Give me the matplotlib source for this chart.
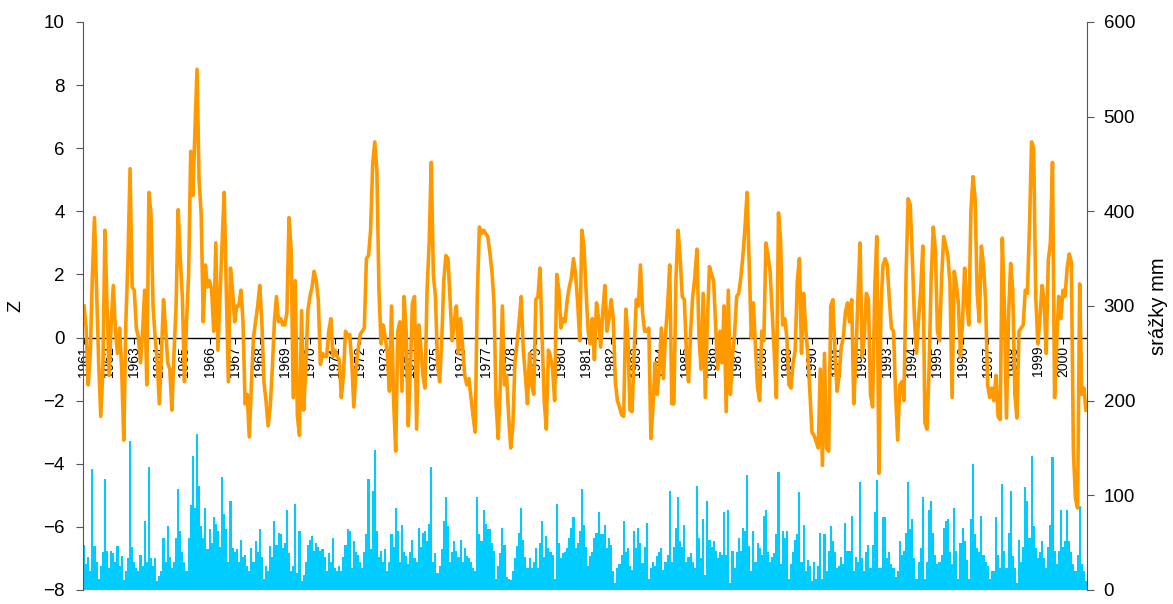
import numpy as np
import matplotlib.pyplot as plt

plt.rcParams['font.family'] = ['Liberation Sans', 'DejaVu Sans']

# rok 1961 - 2000, mesicni hodnoty
years = list(range(1961, 2001))

# Z index (orange line), one row per year
z_1961_1970 = [
    1.0, 0.3, -1.5, -0.5, 2.0, 3.8, 1.5, -0.8, -2.5, -1.0, 3.4, 1.0,
    -1.2, 0.5, 1.65, 0.2, -0.5, 0.3, -1.0, -3.25, 0.5, 2.5, 5.35, 1.6,
    1.5, 0.3, 0.0, -0.8, 0.2, 1.5, -1.5, 4.6, 3.9, 1.0, 0.0, -0.8,
    -2.1, -0.5, 1.2, 0.3, -0.8, -1.0, -2.3, -0.5, 1.0, 4.05, 2.5, 1.3,
    -1.4, 0.5, 2.0, 5.9, 4.5, 6.5, 8.5, 5.0, 3.9, 0.5, 2.3, 1.6,
    1.8, 1.5, 0.2, 3.0, -0.4, 1.3, 3.0, 4.6, 1.5, -1.4, 2.2, 1.5,
    0.5, 1.0, 1.0, 1.5, 0.5, -2.1, -1.8, -3.15, -1.5, 0.0, 0.5, 1.0,
    1.65, 0.5, -1.4, -2.0, -2.8, -2.2, -1.0, 0.5, 1.3, 0.5, 0.6, 0.4,
    0.4, 0.8, 3.8, 2.8, -1.9, 1.8, -2.5, -3.1, 0.85, -2.3, -1.0, 0.85,
    1.3, 1.6, 2.1, 1.8, 1.2, -0.85, -0.5, -0.6, -0.6, 0.2, 0.6, -0.6,
]
z_1971_1980 = [
    -0.4, -0.6, -0.7, -1.9, -1.2, 0.2, 0.0, 0.1, -0.8, -2.2, -1.0, -0.4,
    0.1, 0.2, 0.3, 2.5, 2.6, 3.4, 5.5, 6.2, 5.3, 1.5, -0.2, 0.4,
    0.0, -0.5, -1.7, 1.0, -2.0, -3.6, 0.2, 0.5, -1.7, 1.3, 0.2, -2.8,
    -1.0, 1.1, 1.3, -2.9, 0.4, -0.3, -1.2, -1.6, 1.5, 3.0, 5.55, 2.0,
    1.3, -0.8, -1.4, -0.1, 1.8, 2.6, 2.5, 1.2, -0.1, 0.5, 1.0, -0.5,
    0.6, -0.3, -1.2, -1.5, -1.3, -1.9, -2.5, -3.0, 1.3, 3.5, 3.3, 3.4,
    3.3, 3.2, 2.7, 2.1, 1.1, -2.1, -3.2, -1.5, 1.0, -1.5, -1.2, -2.5,
    -3.5, -2.8, -0.8, -0.2, 0.5, 1.3, -0.4, -1.2, -2.1, -0.5, -1.5, -1.8,
    1.2, 1.3, 2.2, 0.0, -2.0, -2.9, -0.4, -0.6, -1.0, -2.0, 2.0, 1.5,
    0.3, 0.6, 0.5, 1.2, 1.6, 1.9, 2.5, 2.0, 1.1, -0.1, 3.4, 2.9,
]
z_1981_1990 = [
    1.5, 0.2, -0.2, 0.6, -0.7, 1.1, 0.6, -0.3, 0.8, 1.65, 0.2, 0.6,
    1.2, 0.6, -1.4, -2.0, -2.2, -2.45, -2.5, 0.9, 0.0, -2.3, -2.35, -0.5,
    1.2, 1.0, 2.3, 0.8, 0.2, 0.2, 0.3, -3.2, -2.2, -0.8, -1.8, -1.0,
    0.3, -1.3, 0.1, 1.0, 2.3, -2.1, -2.1, 1.9, 3.4, 2.5, 1.3, 1.2,
    -0.5, -1.4, 0.2, 1.3, 1.9, 2.8, 0.0, -1.0, 1.4, -1.9, 0.5, 2.25,
    2.0, 1.8, 0.3, -1.0, 0.2, -0.8, 1.0, -2.35, 1.5, -1.8, -0.6, 0.1,
    1.3, 1.4, 1.9, 2.6, 3.5, 4.6, 2.35, 0.0, 1.1, -0.3, -1.6, -2.0,
    0.2, -0.1, 3.0, 2.6, 2.1, 0.8, -0.5, -1.9, 3.95, 3.1, 0.4, 0.6,
    0.0, -1.5, -1.6, -0.8, -0.4, 1.8, 2.5, -0.5, 1.4, 0.3, -0.5, -1.7,
    -3.0, -3.1, -3.3, -3.5, -1.0, -4.05, -0.5, -3.5, -3.6, 1.0, 1.2, -0.5,
]
z_1991_2000 = [
    -1.7, -1.2, -0.3, 0.0, 0.8, 1.1, 0.5, 1.2, -2.1, -0.6, 1.3, 3.0,
    -0.6, 0.0, 1.4, 1.2, -1.8, -2.2, 1.5, 3.2, -4.3, 1.0, 2.3, 2.5,
    2.3, 1.2, 0.3, 0.2, -1.8, -3.25, -1.5, -1.4, -2.0, 2.0, 4.4, 4.2,
    2.5, 0.6, -0.5, 0.6, 1.5, 2.9, -2.7, -2.9, -1.0, 1.9, 3.5, 2.8,
    0.2, -0.1, 1.9, 3.2, 2.9, 2.6, 1.7, -1.9, 2.1, 1.7, 1.1, -0.6,
    0.5, 2.2, 1.1, 0.4, 4.0, 5.1, 4.4, 1.4, 0.5, 2.9, 2.3, 1.2,
    -1.5, -1.9, -1.6, -2.0, -1.2, -2.5, -2.6, 3.15, 1.0, -2.55, 0.7, 2.35,
    1.5, -1.8, -2.55, 0.2, 0.3, 0.4, 1.5, 1.4, 3.5, 6.2, 6.0, 1.3,
    -0.2, 0.6, 1.65, 1.2, -0.5, 2.45, 3.0, 5.55, -1.9, -0.2, 1.3, 0.6,
    1.5, 1.3, 2.2, 2.65, 2.4, -3.6, -5.1, -5.4, 1.7, -1.8, -1.6, -2.3,
]

# srazky mm (blue bars)
mm_1961_1970 = [
    48, 27, 35, 20, 128, 46, 30, 12, 25, 40, 117, 41,
    23, 41, 39, 30, 46, 25, 36, 11, 20, 34, 157, 45,
    30, 23, 20, 37, 25, 73, 30, 130, 34, 25, 34, 9,
    15, 20, 55, 30, 68, 35, 23, 30, 55, 107, 62, 40,
    30, 20, 55, 90, 142, 87, 165, 110, 68, 55, 87, 43,
    64, 50, 77, 70, 62, 45, 119, 80, 64, 30, 94, 44,
    40, 43, 30, 53, 35, 37, 25, 20, 44, 30, 52, 40,
    64, 35, 12, 25, 20, 46, 35, 73, 48, 60, 59, 44,
    50, 84, 39, 20, 25, 91, 18, 62, 9, 16, 30, 48,
    53, 57, 41, 50, 45, 41, 43, 35, 20, 39, 30, 55,
]
mm_1971_1980 = [
    23, 20, 25, 20, 35, 48, 64, 62, 23, 52, 40, 37,
    30, 23, 40, 59, 117, 43, 105, 148, 62, 35, 41, 30,
    43, 20, 30, 59, 45, 87, 62, 30, 69, 40, 36, 27,
    40, 53, 34, 30, 66, 45, 60, 62, 52, 70, 130, 30,
    39, 18, 25, 43, 73, 98, 68, 30, 40, 52, 41, 35,
    53, 30, 44, 36, 34, 30, 23, 20, 98, 59, 52, 85,
    70, 64, 64, 50, 41, 12, 25, 39, 66, 48, 14, 12,
    11, 20, 34, 46, 60, 87, 53, 35, 23, 34, 23, 30,
    44, 23, 50, 73, 35, 57, 44, 40, 37, 12, 91, 50,
    34, 39, 40, 44, 55, 66, 77, 44, 50, 62, 107, 69,
]
mm_1981_1990 = [
    45, 25, 36, 40, 55, 60, 82, 59, 59, 69, 44, 55,
    48, 20, 7, 23, 27, 37, 73, 40, 44, 25, 21, 62,
    44, 66, 50, 28, 45, 71, 12, 23, 30, 25, 36, 40,
    44, 21, 30, 37, 105, 30, 45, 66, 98, 52, 45, 69,
    30, 35, 39, 30, 23, 110, 55, 34, 75, 16, 94, 53,
    45, 52, 41, 34, 40, 37, 82, 37, 85, 7, 41, 23,
    40, 55, 41, 66, 62, 121, 46, 20, 62, 30, 50, 44,
    37, 78, 84, 40, 30, 35, 39, 59, 125, 27, 62, 55,
    62, 12, 27, 40, 53, 59, 103, 30, 69, 20, 32, 25,
    9, 30, 12, 25, 60, 12, 59, 20, 41, 68, 52, 40,
]
mm_1991_2000 = [
    23, 25, 35, 27, 71, 41, 41, 78, 20, 35, 30, 114,
    34, 20, 40, 48, 23, 48, 82, 116, 23, 23, 77, 77,
    34, 40, 27, 23, 14, 20, 52, 37, 41, 60, 114, 64,
    75, 34, 12, 30, 44, 98, 12, 30, 84, 94, 60, 37,
    27, 30, 37, 66, 73, 75, 40, 27, 87, 41, 12, 50,
    66, 52, 32, 12, 75, 133, 59, 44, 40, 78, 37, 30,
    25, 12, 20, 20, 77, 37, 23, 112, 41, 23, 60, 105,
    36, 23, 7, 53, 30, 45, 109, 94, 55, 142, 68, 44,
    34, 40, 52, 34, 23, 45, 69, 141, 41, 27, 41, 84,
    45, 52, 84, 52, 40, 27, 20, 37, 89, 27, 20, 9,
]

z = np.array(z_1961_1970 + z_1971_1980 + z_1981_1990 + z_1991_2000)
mm = np.array(mm_1961_1970 + mm_1971_1980 + mm_1981_1990 + mm_1991_2000)
x = np.arange(len(z))

fig = plt.figure(figsize=(11.73, 6.04), dpi=100)
ax_mm = fig.add_axes([83 / 1173, 14 / 604, 1004 / 1173, 568 / 604])
ax_z = ax_mm.twinx()

# precipitation bars, right axis
ax_mm.bar(x, mm, width=1.0, color='#00CCFF', linewidth=0)
ax_mm.set_ylim(0, 600)
ax_mm.set_yticks(range(0, 601, 100))
ax_mm.set_xlim(-0.5, len(z) - 0.5)
ax_mm.yaxis.tick_right()
ax_mm.yaxis.set_label_position('right')
ax_mm.set_ylabel('srážky mm', fontsize=14.5, labelpad=10)
ax_mm.tick_params(axis='y', labelsize=13.5, direction='out', length=5,
                  color='#555555', pad=7)
ax_mm.tick_params(axis='x', bottom=False, labelbottom=False)
for s in ['top', 'left', 'bottom']:
    ax_mm.spines[s].set_visible(False)
ax_mm.spines['right'].set_color('#555555')

# Z index line, left axis
ax_z.axhline(0, color='black', lw=1, zorder=1)
ax_z.plot(x, z, color='#FF9900', lw=2.6, zorder=2)
ax_z.set_ylim(-8, 10)
ax_z.set_yticks(range(-8, 11, 2))
ax_z.yaxis.tick_left()
ax_z.yaxis.set_label_position('left')
ax_z.set_ylabel('Z', fontsize=14, labelpad=14)
ax_z.tick_params(axis='y', labelsize=13.5, direction='out', length=5,
                 color='#555555', pad=8)
for s in ['top', 'right']:
    ax_z.spines[s].set_visible(False)
ax_z.spines['left'].set_color('#555555')

# year axis crossing at Z = 0
ax_z.xaxis.set_visible(True)
ax_z.spines['bottom'].set_position(('data', 0))
ax_z.spines['bottom'].set_visible(False)
ax_z.set_xticks([12 * i for i in range(len(years))])
ax_z.set_xticklabels([str(y) for y in years], rotation=90, fontsize=10,
                     va='top', ha='center')
ax_z.tick_params(axis='x', direction='out', length=4, color='black', pad=2)
ax_z.set_xlim(-0.5, len(z) - 0.5)

fig.savefig('out.png', dpi=100)
